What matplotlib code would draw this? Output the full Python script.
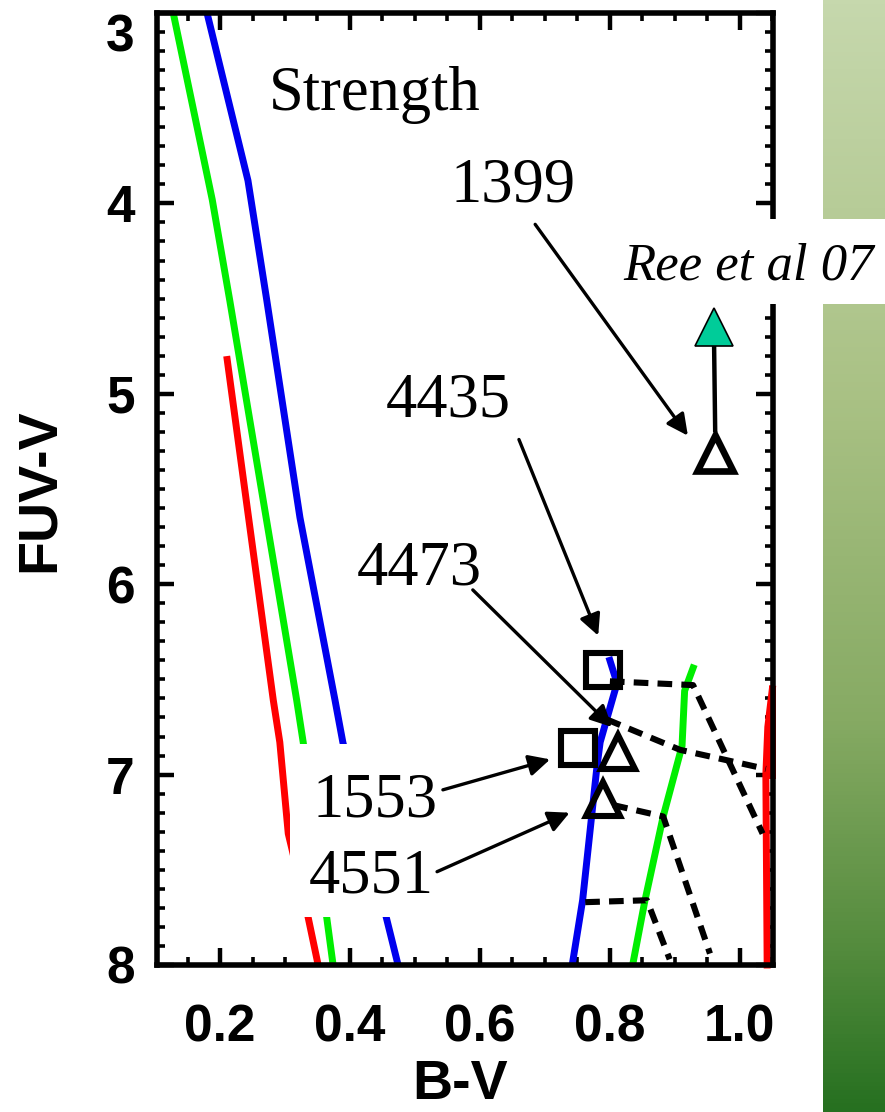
import numpy as np
import matplotlib
matplotlib.use("Agg")
import matplotlib.pyplot as plt
from matplotlib.patches import Rectangle
from matplotlib.colors import LinearSegmentedColormap
from matplotlib.ticker import MultipleLocator, FixedLocator, FormatStrFormatter

# ---- model tracks (B-V, FUV-V) ----
blue_young_bv = [0.180, 0.200, 0.243, 0.272, 0.323, 0.377, 0.389, 0.474]
blue_young_fuv = [3.00, 3.28, 3.88, 4.51, 5.65, 6.61, 6.83, 8.00]
green_young_bv = [0.128, 0.188, 0.215, 0.318, 0.328, 0.374]
green_young_fuv = [3.00, 3.98, 4.51, 6.61, 6.83, 8.00]
red_young_bv = [0.211, 0.282, 0.292, 0.305, 0.335, 0.351]
red_young_fuv = [4.82, 6.61, 6.83, 7.31, 7.74, 8.00]

blue_old_bv = [0.800, 0.811, 0.785, 0.780, 0.769, 0.758, 0.742]
blue_old_fuv = [6.40, 6.52, 6.83, 6.96, 7.31, 7.66, 8.00]
green_old_bv = [0.928, 0.915, 0.911, 0.882, 0.854, 0.835]
green_old_fuv = [6.44, 6.56, 6.85, 7.22, 7.66, 8.00]
red_old_bv = [1.050, 1.043, 1.040, 1.041, 1.042]
red_old_fuv = [6.55, 6.75, 7.00, 7.50, 8.00]
red_old2_bv = [1.050, 1.050]
red_old2_fuv = [6.55, 7.00]

# iso-age connectors
iso_bv = [[0.800, 0.928, 1.035],
          [0.795, 0.908, 1.040],
          [0.805, 0.882, 0.954],
          [0.762, 0.857, 0.892]]
iso_fuv = [[6.51, 6.53, 7.31],
           [6.71, 6.87, 6.97],
           [7.16, 7.22, 7.94],
           [7.67, 7.66, 7.97]]

# ---- galaxies ----
sq_names = ["4435", "1553"]
sq_bv = [0.789, 0.751]
sq_fuv = [6.45, 6.86]
tri_names = ["4473", "4551", "1399"]
tri_bv = [0.812, 0.789, 0.962]
tri_fuv = [6.88, 7.13, 5.31]
ree_bv = [0.960]
ree_fuv = [4.65]

# labels: text, text position, arrow tail, arrow tip
lab_text = ["1399", "4435", "4473", "1553", "4551"]
lab_pos = [(0.651, 3.99), (0.551, 5.12), (0.506, 6.00), (0.438, 7.22), (0.432, 7.62)]
arr_tail = [(0.685, 4.11), (0.660, 5.24), (0.589, 6.03), (0.543, 7.08), (0.534, 7.51)]
arr_head = [(0.920, 5.22), (0.782, 6.27), (0.803, 6.75), (0.708, 6.92), (0.738, 7.20)]

x_ticks = [0.2, 0.4, 0.6, 0.8, 1.0]
y_ticks = [3, 4, 5, 6, 7, 8]

W, H = 885, 1112
fig = plt.figure(figsize=(W / 100, H / 100), dpi=100)
fig.patch.set_facecolor("white")

# decorative green gradient strip on the right
bar_ax = fig.add_axes([823 / W, 0, (W - 823) / W, 1])
grad_cmap = LinearSegmentedColormap.from_list(
    "strip", [(0.0, "#c6d8ad"), (0.36, "#a9c184"), (0.65, "#86aa63"),
              (0.85, "#558c3e"), (1.0, "#267020")])
bar_ax.imshow(np.linspace(0, 1, 256).reshape(-1, 1), aspect="auto",
              cmap=grad_cmap, extent=[0, 1, 1, 0])
bar_ax.set_axis_off()

ax = fig.add_axes([157 / W, 1 - 965 / H, (773 - 157) / W, (965 - 13) / H])
ax.set_xlim(0.103, 1.051)
ax.set_ylim(8, 3)

lw_track = 5.0
ax.plot(blue_young_bv, blue_young_fuv, color="#0000ee", lw=lw_track, zorder=2)
ax.plot(green_young_bv, green_young_fuv, color="#00ee00", lw=lw_track, zorder=2)
ax.plot(red_young_bv, red_young_fuv, color="#ff0000", lw=lw_track, zorder=2)
ax.plot(blue_old_bv, blue_old_fuv, color="#0000ee", lw=lw_track, zorder=2)
ax.plot(green_old_bv, green_old_fuv, color="#00ee00", lw=lw_track, zorder=2)
ax.plot(red_old_bv, red_old_fuv, color="#ff0000", lw=lw_track, zorder=2,
        clip_on=False)
ax.plot(red_old2_bv, red_old2_fuv, color="#ff0000", lw=lw_track, zorder=2,
        clip_on=False)
for xs, ys in zip(iso_bv, iso_fuv):
    ax.plot(xs, ys, color="black", lw=4.4, ls=(0, (2.4, 1.5)), zorder=3)

# white panel behind the lower labels
ax.add_patch(Rectangle((0.308, 6.84), 0.563 - 0.308, 7.75 - 6.84,
                       facecolor="white", edgecolor="none", zorder=4))

ax.plot(sq_bv, sq_fuv, ls="none", marker="s", ms=24, mfc="none",
        mec="black", mew=4.4, zorder=6)
ax.plot(tri_bv[:2], tri_fuv[:2], ls="none", marker="^", ms=25, mfc="none",
        mec="black", mew=4.4, zorder=6)
ax.plot([tri_bv[2], ree_bv[0]], [tri_fuv[2] - 0.12, ree_fuv[0]],
        color="black", lw=3.2, zorder=5)
ax.plot(tri_bv[2], tri_fuv[2], ls="none", marker="^", ms=26, mfc="white",
        mec="black", mew=4.8, zorder=6)
ax.plot(ree_bv, ree_fuv, ls="none", marker="^", ms=28, mfc="#00cc99",
        mec="black", mew=1.2, zorder=6)

serif = ["Liberation Serif", "DejaVu Serif"]
ax.text(0.438, 3.51, "Strength", family=serif, fontsize=45,
        ha="center", va="baseline", zorder=7)
for t, (tx, ty), tail, head in zip(lab_text, lab_pos, arr_tail, arr_head):
    ax.text(tx, ty, t, family=serif, fontsize=45, ha="center",
            va="baseline", zorder=7)
    ax.annotate("", xy=head, xytext=tail,
                arrowprops=dict(arrowstyle="-|>", color="black", lw=2.4,
                                mutation_scale=32, shrinkA=0, shrinkB=0),
                zorder=7)

# axes styling
for sp in ax.spines.values():
    sp.set_linewidth(4.0)
ax.xaxis.set_major_locator(FixedLocator(x_ticks))
ax.xaxis.set_minor_locator(MultipleLocator(0.05))
ax.yaxis.set_major_locator(FixedLocator(y_ticks))
ax.yaxis.set_minor_locator(MultipleLocator(0.1))
ax.tick_params(which="both", direction="in", top=True, right=True)
ax.tick_params(which="major", length=12, width=3.2)
ax.tick_params(which="minor", length=6, width=2.6)
ax.tick_params(axis="x", which="major", pad=28)
ax.tick_params(axis="y", which="major", pad=16)
ax.xaxis.set_major_formatter(FormatStrFormatter("%.1f"))
ax.yaxis.set_major_formatter(FormatStrFormatter("%d"))
sans = ["Liberation Sans", "DejaVu Sans"]
for lab in ax.get_xticklabels() + ax.get_yticklabels():
    lab.set_family(sans)
    lab.set_fontweight("bold")
    lab.set_fontsize(37)

fig.text(460 / W, 1 - 1085 / H, "B-V", family=sans, fontweight="bold",
         fontsize=40, ha="center", va="center")
fig.text(40 / W, 1 - 490 / H, "FUV-V", family=sans, fontweight="bold",
         fontsize=40, ha="center", va="center", rotation=90)

# citation tag over the frame edge
fig.patches.append(Rectangle((603 / W, 1 - 304 / H), (W - 603) / W,
                             (304 - 219) / H, transform=fig.transFigure,
                             facecolor="white", edgecolor="none", zorder=5))
fig.text(749 / W, 1 - 280 / H, "Ree et al 07", family=serif, style="italic",
         fontsize=38, ha="center", va="baseline", zorder=6)

# keep the top y label inside the frame
fig.canvas.draw()
for tick in ax.yaxis.get_major_ticks():
    if tick.label1.get_text() == "3":
        tick.label1.set_va("top")

fig.savefig("out.png", dpi=100)
